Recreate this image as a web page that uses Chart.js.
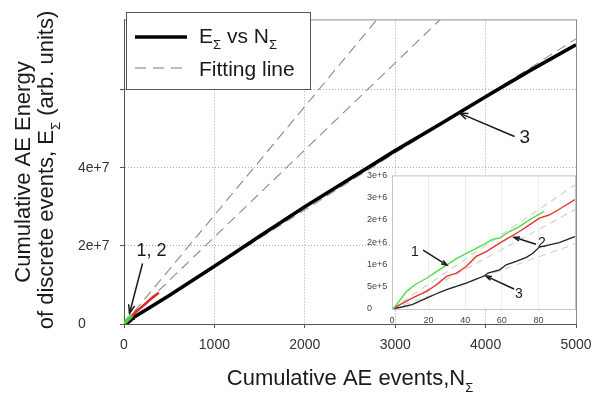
<!DOCTYPE html>
<html>
<head>
<meta charset="utf-8">
<script src="https://cdn.jsdelivr.net/npm/chart.js@4.4.0/dist/chart.umd.min.js"></script>
<style>
  html, body { margin: 0; padding: 0; background: #fff; }
  #wrap { position: relative; width: 592px; height: 394px; }
  #mainChart { position: absolute; left: 0; top: 0; }
  #insetChart { position: absolute; left: 352px; top: 165px; }
</style>
</head>
<body>
<div id="wrap">
  <canvas id="mainChart" width="592" height="394"></canvas>
  <canvas id="insetChart" width="226" height="165"></canvas>
</div>
<script>
// Serie 1 (verde)
const events1 = [0, 1, 8, 12.5, 18.9, 24.3, 29.8, 35.2, 40.6, 46, 51.5, 55.1, 58.8, 64.2, 69.6, 75.1, 80.5, 83.2];
const energy1 = [0, 2e4, 3.96e5, 5.45e5, 6.9e5, 8.4e5, 9.85e5, 1.13e6, 1.25e6, 1.36e6, 1.48e6, 1.57e6, 1.59e6, 1.74e6, 1.85e6, 2.0e6, 2.13e6, 2.19e6];

// Serie 2 (roja)
const events2 = [0, 5.4, 11, 18.9, 24.3, 29.8, 35.2, 40.6, 46, 51.5, 58.8, 64.2, 69.6, 75.1, 80.5, 85.9, 91.4, 98.8, 150, 200, 250, 300, 384];
const energy2 = [0, 1.19e5, 2.46e5, 3.96e5, 5.45e5, 7.31e5, 8.06e5, 9.55e5, 1.18e6, 1.29e6, 1.48e6, 1.61e6, 1.74e6, 1.89e6, 2.04e6, 2.11e6, 2.24e6, 2.43e6, 3.45e6, 4.45e6, 5.45e6, 6.45e6, 8.0e6];

// Serie 3 (negra)
const events3 = [0, 5.4, 11, 18.9, 24.3, 29.8, 35.2, 40.6, 46, 50.6, 52.4, 58.8, 62.4, 67.8, 73.4, 77, 80.5, 86, 91.4, 98.8,
                 250, 500, 1000, 1500, 2000, 2500, 3000, 3500, 4000, 4500, 5000];
const energy3 = [0, 4.5e4, 9.7e4, 2.46e5, 3.43e5, 4.33e5, 5.07e5, 5.82e5, 6.72e5, 7.46e5, 8.06e5, 8.8e5, 9.93e5, 1.07e6, 1.16e6, 1.25e6, 1.39e6, 1.44e6, 1.49e6, 1.61e6,
                 3.7e6, 7.3e6, 1.48e7, 2.25e7, 3.0e7, 3.72e7, 4.44e7, 5.12e7, 5.82e7, 6.5e7, 7.15e7];

// Rectas de ajuste (extremos)
const fitAX = [0, 2800], fitAY = [0, 7.8e7];
const fitBX = [0, 3500], fitBY = [0, 7.8e7];
const fitCX = [0, 5000], fitCY = [0, 7.3e7];

// Ticks
const mainXTicks = [0, 1000, 2000, 3000, 4000, 5000];
const mainYTicks = [0, 2e7, 4e7, 6e7];
const mainYTickText = ['0', '2e+7', '4e+7', ''];
const insetXTicks = [0, 20, 40, 60, 80];
const insetYTicks = [0, 5e5, 1e6, 1.5e6, 2e6, 2.5e6, 3e6];
const insetYTickText = ['0', '5e+5', '1e+6', '2e+6', '2e+6', '3e+6', '3e+6'];

const FONT = "'Liberation Sans', Arial, sans-serif";

function toPoints(xs, ys) {
  return xs.map((x, i) => ({ x: x, y: ys[i] }));
}

// Texto con subíndices: parts = [[texto, esSub], ...]
function richText(ctx, parts, x, y, size, align) {
  const subSize = Math.round(size * 0.6);
  const widths = parts.map(p => {
    ctx.font = (p[1] ? subSize : size) + 'px ' + FONT;
    return ctx.measureText(p[0]).width;
  });
  const total = widths.reduce((a, b) => a + b, 0);
  let cx = align === 'center' ? x - total / 2 : x;
  ctx.textAlign = 'left';
  ctx.textBaseline = 'alphabetic';
  parts.forEach((p, i) => {
    ctx.font = (p[1] ? subSize : size) + 'px ' + FONT;
    ctx.fillText(p[0], cx, p[1] ? y + size * 0.3 : y);
    cx += widths[i];
  });
}

function arrow(ctx, x1, y1, x2, y2, head) {
  ctx.beginPath();
  ctx.moveTo(x1, y1);
  ctx.lineTo(x2, y2);
  ctx.stroke();
  const a = Math.atan2(y2 - y1, x2 - x1);
  ctx.beginPath();
  ctx.moveTo(x2 - head * Math.cos(a - 0.35), y2 - head * Math.sin(a - 0.35));
  ctx.lineTo(x2, y2);
  ctx.lineTo(x2 - head * Math.cos(a + 0.35), y2 - head * Math.sin(a + 0.35));
  ctx.stroke();
}

// Notas con flechas (en coordenadas de datos)
function drawNotes(chart, notes) {
  const ctx = chart.ctx, xs = chart.scales.x, ys = chart.scales.y;
  ctx.save();
  ctx.fillStyle = '#1a1a1a';
  ctx.strokeStyle = '#1a1a1a';
  ctx.lineWidth = 1.5;
  notes.forEach(n => {
    ctx.font = n.size + 'px ' + FONT;
    ctx.textAlign = 'left';
    ctx.textBaseline = 'alphabetic';
    ctx.fillText(n.text, xs.getPixelForValue(n.tx), ys.getPixelForValue(n.ty));
    arrow(ctx, xs.getPixelForValue(n.ax), ys.getPixelForValue(n.ay),
          xs.getPixelForValue(n.bx), ys.getPixelForValue(n.by), n.head);
  });
  ctx.restore();
}

const mainDecor = {
  id: 'mainDecor',
  afterDraw(chart) {
    const ctx = chart.ctx, area = chart.chartArea;
    ctx.save();
    // marco superior y derecho
    ctx.strokeStyle = '#8c8c8c';
    ctx.lineWidth = 1;
    ctx.beginPath();
    ctx.moveTo(area.left, area.top + 0.5);
    ctx.lineTo(area.right + 0.5, area.top + 0.5);
    ctx.lineTo(area.right + 0.5, area.bottom);
    ctx.stroke();

    // leyenda
    ctx.fillStyle = '#fff';
    ctx.fillRect(126, 12, 184, 77);
    ctx.strokeStyle = '#555';
    ctx.strokeRect(126.5, 12.5, 184, 77);
    ctx.strokeStyle = '#000';
    ctx.lineWidth = 3.5;
    ctx.beginPath(); ctx.moveTo(135, 37); ctx.lineTo(187, 37); ctx.stroke();
    ctx.strokeStyle = '#a8a8a8';
    ctx.lineWidth = 1.3;
    ctx.setLineDash([11, 7]);
    ctx.beginPath(); ctx.moveTo(135, 68); ctx.lineTo(187, 68); ctx.stroke();
    ctx.setLineDash([]);
    ctx.fillStyle = '#1a1a1a';
    richText(ctx, [['E', false], ['\u03A3', true], [' vs N', false], ['\u03A3', true]], 199, 43, 21, 'left');
    richText(ctx, [['Fitting line', false]], 199, 76, 21, 'left');

    // títulos de ejes
    ctx.fillStyle = '#1a1a1a';
    richText(ctx, [['Cumulative AE events,N', false], ['\u03A3', true]], 350, 385, 22, 'center');
    ctx.translate(30, 172);
    ctx.rotate(-Math.PI / 2);
    richText(ctx, [['Cumulative AE Energy', false]], 0, 0, 22, 'center');
    ctx.restore();
    ctx.save();
    ctx.fillStyle = '#1a1a1a';
    ctx.translate(53, 170);
    ctx.rotate(-Math.PI / 2);
    richText(ctx, [['of discrete events, E', false], ['\u03A3', true], [' (arb. units)', false]], 0, 0, 22, 'center');
    ctx.restore();

    drawNotes(chart, [
      { text: '1, 2', tx: 138, ty: 1.73e7, size: 18, ax: 205, ay: 1.55e7, bx: 61, by: 2.75e6, head: 9 },
      { text: '3', tx: 4375, ty: 4.63e7, size: 19, ax: 4320, ay: 4.8e7, bx: 3711, by: 5.4e7, head: 9 }
    ]);
  }
};

const insetDecor = {
  id: 'insetDecor',
  beforeDraw(chart) {
    const ctx = chart.ctx, area = chart.chartArea;
    ctx.save();
    ctx.fillStyle = '#fff';
    ctx.fillRect(area.left, area.top, area.right - area.left, area.bottom - area.top);
    ctx.restore();
  },
  afterDraw(chart) {
    const ctx = chart.ctx, area = chart.chartArea;
    ctx.save();
    ctx.strokeStyle = '#c4c4c4';
    ctx.lineWidth = 1;
    ctx.strokeRect(area.left + 0.5, area.top + 0.5, area.right - area.left, area.bottom - area.top);
    ctx.restore();
    drawNotes(chart, [
      { text: '1', tx: 10.4, ty: 1.19e6, size: 14, ax: 17, ay: 1.32e6, bx: 30, by: 9.85e5, head: 6 },
      { text: '2', tx: 79.8, ty: 1.39e6, size: 14, ax: 78.7, ay: 1.455e6, bx: 66.7, by: 1.61e6, head: 6 },
      { text: '3', tx: 67.2, ty: 2.46e5, size: 14, ax: 66.7, ay: 4.48e5, bx: 51.4, by: 7.39e5, head: 6 }
    ]);
  }
};

function lineSet(xs, ys, color, width, dash) {
  return {
    data: toPoints(xs, ys),
    borderColor: color,
    borderWidth: width,
    borderDash: dash || [],
    pointRadius: 0,
    tension: 0,
    fill: false
  };
}

// Gráfico principal
new Chart(document.getElementById('mainChart').getContext('2d'), {
  type: 'line',
  data: {
    datasets: [
      lineSet(events1, energy1, '#49d13f', 3),
      lineSet(events2, energy2, '#e3261f', 2.5),
      lineSet(events3, energy3, '#000', 3.6),
      lineSet(fitCX, fitCY, '#9a9a9a', 1.1, [10, 6]),
      lineSet(fitAX, fitAY, '#8a8a8a', 1.1, [10, 6]),
      lineSet(fitBX, fitBY, '#8a8a8a', 1.1, [10, 6])
    ]
  },
  options: {
    responsive: false,
    animation: false,
    events: [],
    layout: { padding: { top: 12, right: 16, left: 78, bottom: 0 } },
    plugins: { legend: { display: false }, tooltip: { enabled: false } },
    scales: {
      x: {
        type: 'linear',
        min: 0, max: 5000,
        afterBuildTicks: s => { s.ticks = mainXTicks.map(v => ({ value: v })); },
        afterFit: s => { s.height = 70; s.paddingLeft = 0; s.paddingRight = 0; },
        grid: { color: '#a9a9a9', lineWidth: 1, tickLength: 4, tickColor: '#555' },
        border: { color: '#555', width: 1, dash: [1, 2] },
        ticks: { color: '#333', padding: 9, maxRotation: 0, font: { family: FONT, size: 14 }, callback: v => String(v) }
      },
      y: {
        type: 'linear',
        min: 0, max: 7.8e7,
        afterBuildTicks: s => { s.ticks = mainYTicks.map(v => ({ value: v })); },
        afterFit: s => { s.width = 46; },
        grid: { color: '#a9a9a9', lineWidth: 1, tickLength: 4, tickColor: '#555' },
        border: { color: '#555', width: 1, dash: [1, 2] },
        ticks: {
          color: '#333', padding: 11, crossAlign: 'far',
          font: { family: FONT, size: 14 },
          callback: v => mainYTickText[mainYTicks.indexOf(v)]
        }
      }
    }
  },
  plugins: [mainDecor]
});

// Gráfico insertado
new Chart(document.getElementById('insetChart').getContext('2d'), {
  type: 'line',
  data: {
    datasets: [
      lineSet(events1, energy1, '#52dc48', 1.4),
      lineSet(events2, energy2, '#e8342b', 1.4),
      lineSet(events3, energy3, '#222', 1.3),
      lineSet(fitAX, fitAY, '#d2d2d2', 1.2, [7, 5]),
      lineSet(fitBX, fitBY, '#d2d2d2', 1.2, [7, 5]),
      lineSet(fitCX, fitCY, '#d2d2d2', 1.2, [7, 5])
    ]
  },
  options: {
    responsive: false,
    animation: false,
    events: [],
    layout: { padding: { top: 10, right: 3, left: 15, bottom: 0 } },
    plugins: { legend: { display: false }, tooltip: { enabled: false } },
    scales: {
      x: {
        type: 'linear',
        min: 0, max: 100,
        afterBuildTicks: s => { s.ticks = insetXTicks.map(v => ({ value: v })); },
        afterFit: s => { s.height = 21; s.paddingLeft = 0; s.paddingRight = 0; },
        grid: { color: '#ececec', lineWidth: 1, drawTicks: false },
        border: { display: false },
        ticks: { color: '#444', padding: 6, maxRotation: 0, font: { family: FONT, size: 9 } }
      },
      y: {
        type: 'linear',
        min: 0, max: 3e6,
        afterBuildTicks: s => { s.ticks = insetYTicks.map(v => ({ value: v })); },
        afterFit: s => { s.width = 25; },
        grid: { display: false, drawTicks: false },
        border: { display: false },
        ticks: {
          color: '#444', padding: 5, crossAlign: 'far',
          font: { family: FONT, size: 9 },
          callback: v => insetYTickText[insetYTicks.indexOf(v)]
        }
      }
    }
  },
  plugins: [insetDecor]
});
</script>
</body>
</html>
